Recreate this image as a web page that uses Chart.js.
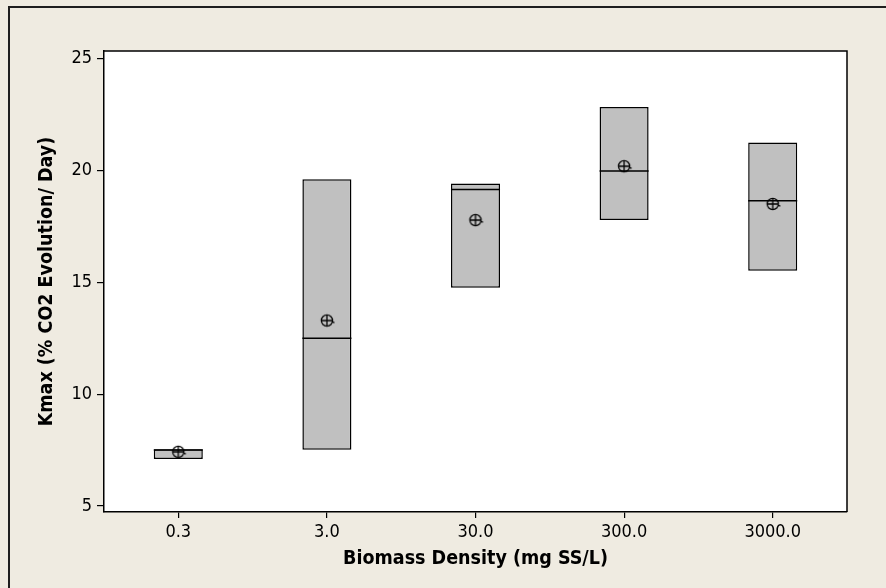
<!DOCTYPE html>
<html>
<head>
<meta charset="utf-8">
<script src="https://cdn.jsdelivr.net/npm/chart.js@4.4.1/dist/chart.umd.min.js"></script>
<style>
  html, body { margin: 0; padding: 0; background: #efebe1; }
  #wrap { position: relative; width: 886px; height: 588px; }
</style>
</head>
<body>
<div id="wrap"><canvas id="boxChart" width="886" height="588"></canvas></div>
<script>
// Kmax by biomass density: box = Q1..Q3, line = median, circle-cross = mean
const densities = ['0.3', '3.0', '30.0', '300.0', '3000.0'];
const q1Values = [7.10, 7.51, 14.76, 17.78, 15.52];
const q3Values = [7.54, 19.61, 19.42, 22.84, 21.25];
const medianValues = [7.50, 12.50, 19.15, 19.98, 18.64];
const meanValues = [7.42, 13.29, 17.78, 20.19, 18.50];
const yTicks = [5, 10, 15, 20, 25];

const FONT = "'DejaVu Sans Condensed', 'DejaVu Sans', sans-serif";
const BG = '#efebe1';

// circle with a cross through it, small tail at lower right
function meanSymbol() {
    const c = document.createElement('canvas');
    c.width = 20; c.height = 20;
    const g = c.getContext('2d');
    g.strokeStyle = '#000';
    g.lineWidth = 1.3;
    g.beginPath(); g.arc(10, 10, 5.6, 0, Math.PI * 2); g.stroke();
    g.beginPath();
    g.moveTo(4.4, 10); g.lineTo(15.6, 10);
    g.moveTo(10, 4.4); g.lineTo(10, 15.6);
    g.stroke();
    g.beginPath(); g.moveTo(15, 11.2); g.lineTo(17.5, 12.2); g.stroke();
    return c;
}

const boxDetails = {
    id: 'boxDetails',
    beforeDraw(chart) {
        const { ctx, chartArea: a } = chart;
        ctx.save();
        ctx.fillStyle = BG;
        ctx.fillRect(0, 0, chart.width, chart.height);
        ctx.strokeStyle = '#1e1e1e';
        ctx.lineWidth = 2;
        ctx.beginPath();
        ctx.moveTo(9, chart.height);
        ctx.lineTo(9, 7);
        ctx.lineTo(chart.width, 7);
        ctx.stroke();
        ctx.fillStyle = '#fff';
        ctx.fillRect(a.left, a.top, a.right - a.left, a.bottom - a.top);
        ctx.restore();
    },
    afterDatasetDraw(chart, args) {
        if (args.index !== 0) return;
        const { ctx } = chart;
        const y = chart.scales.y;
        const bars = chart.getDatasetMeta(0).data;
        ctx.save();
        ctx.strokeStyle = '#000';
        ctx.lineWidth = 1.5;
        bars.forEach((bar, i) => {
            const py = y.getPixelForValue(medianValues[i]);
            ctx.beginPath();
            ctx.moveTo(bar.x - bar.width / 2, py);
            ctx.lineTo(bar.x + bar.width / 2, py);
            ctx.stroke();
        });
        ctx.restore();
    },
    afterDraw(chart) {
        const { ctx, chartArea: a } = chart;
        ctx.save();
        ctx.strokeStyle = '#000';
        ctx.lineWidth = 1.5;
        ctx.beginPath();
        ctx.moveTo(a.left, a.top);
        ctx.lineTo(a.right, a.top);
        ctx.lineTo(a.right, a.bottom);
        ctx.stroke();
        ctx.restore();
    }
};

new Chart(document.getElementById('boxChart'), {
    type: 'bar',
    data: {
        labels: densities,
        datasets: [
            {
                label: 'IQR',
                order: 1,
                data: q1Values.map((q1, i) => [q1, q3Values[i]]),
                backgroundColor: '#c0c0c0',
                borderColor: '#000',
                borderWidth: 1.5,
                borderSkipped: false,
                categoryPercentage: 1,
                barPercentage: 0.33
            },
            {
                type: 'line',
                label: 'Mean',
                order: 0,
                data: meanValues,
                showLine: false,
                pointStyle: meanSymbol(),
                pointRadius: 6,
                pointHoverRadius: 6
            }
        ]
    },
    options: {
        responsive: false,
        animation: false,
        events: [],
        layout: { padding: { top: 51, right: 39, left: 0, bottom: 0 } },
        plugins: { legend: { display: false }, tooltip: { enabled: false } },
        scales: {
            x: {
                offset: true,
                afterFit(scale) { scale.height = 76; },
                grid: { offset: false, drawOnChartArea: false, drawTicks: true, tickLength: 6, color: '#000', lineWidth: 1.2 },
                border: { display: true, color: '#000', width: 1.5 },
                ticks: { color: '#000', padding: 4, font: { family: FONT, size: 18 } },
                title: {
                    display: true,
                    text: 'Biomass Density (mg SS/L)',
                    color: '#000',
                    font: { family: FONT, size: 19.5, weight: 'bold' },
                    padding: { top: 0, bottom: 17 }
                }
            },
            y: {
                min: 4.73,
                max: 25.34,
                afterFit(scale) { scale.width = 104; },
                afterBuildTicks(scale) { scale.ticks = yTicks.map(v => ({ value: v })); },
                grid: { drawOnChartArea: false, drawTicks: true, tickLength: 7, color: '#000', lineWidth: 1.2 },
                border: { display: true, color: '#000', width: 1.5 },
                ticks: { color: '#000', padding: 5, font: { family: FONT, size: 18 } },
                title: {
                    display: true,
                    text: 'Kmax (% CO2 Evolution/ Day)',
                    color: '#000',
                    font: { family: FONT, size: 19.5, weight: 'bold' },
                    padding: { top: 35, bottom: 0 }
                }
            }
        }
    },
    plugins: [boxDetails]
});
</script>
</body>
</html>
